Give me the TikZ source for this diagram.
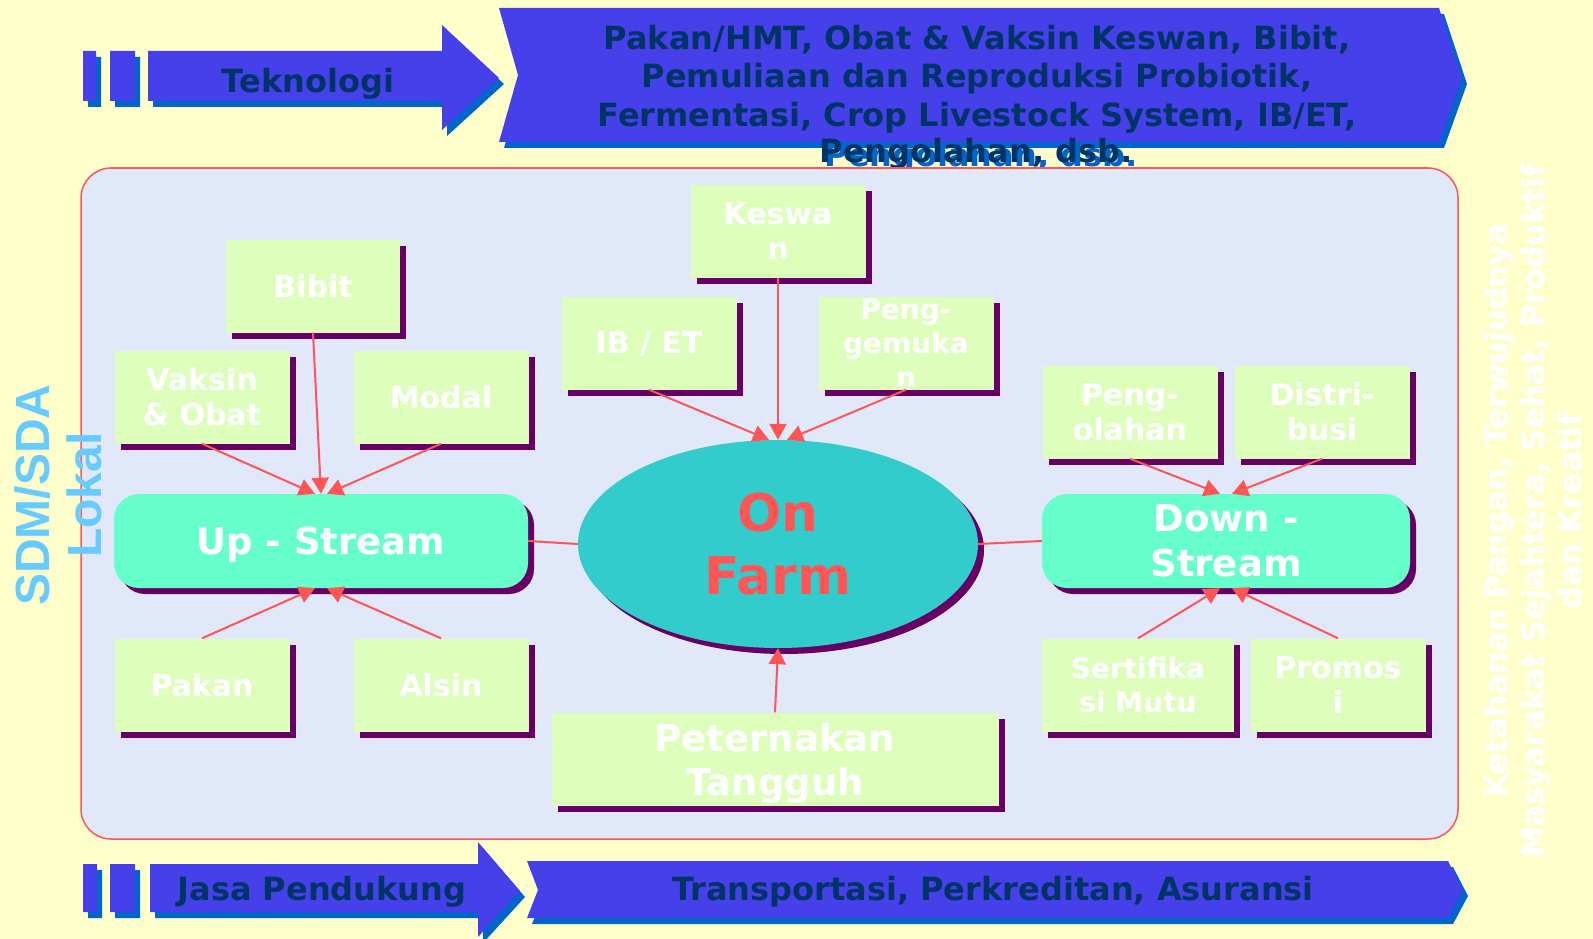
\documentclass[tikz,border=0pt]{standalone}
\usepackage{fontspec}
\setmainfont{DejaVu Sans}
\newfontfamily\lokalfont{Liberation Sans}
\usepackage{xcolor}
\usetikzlibrary{arrows.meta}
\usetikzlibrary{shadows}
\usetikzlibrary{shapes.geometric}
\definecolor{bgyellow}{RGB}{255,255,204}
\definecolor{panel}{RGB}{224,232,250}
\definecolor{redline}{RGB}{255,85,85}
\definecolor{arrowblue}{RGB}{70,64,235}
\definecolor{shadeblue}{RGB}{0,102,204}
\definecolor{navytext}{RGB}{0,51,102}
\definecolor{boxgreen}{RGB}{221,255,187}
\definecolor{streamgreen}{RGB}{102,255,204}
\definecolor{farmteal}{RGB}{51,204,204}
\definecolor{plum}{RGB}{102,0,102}
\definecolor{skyblue}{RGB}{102,204,255}

\begin{document}
\begin{tikzpicture}[x=1pt,y=-1pt,
  plumshadow/.style={drop shadow={shadow xshift=6pt,shadow yshift=-6pt,fill=plum,opacity=1}},
  factor/.style={fill=boxgreen,plumshadow,minimum width=175pt,minimum height=93pt,inner sep=0pt,
    text depth=0pt,text=white,align=center,font=\bfseries\fontsize{30}{35}\selectfont},
  stream/.style={fill=streamgreen,plumshadow,rounded corners=25pt,minimum height=94pt,inner sep=0pt,
    text depth=0pt,text=white,align=center,font=\bfseries\fontsize{37}{45}\selectfont},
  banner/.style={text=navytext,align=center,font=\bfseries\fontsize{32}{38.5}\selectfont},
  link/.style={draw=redline,line width=2pt,-{Triangle[length=16pt,width=17pt]}},
  tie/.style={draw=redline,line width=2pt}]

\useasboundingbox (0,0) rectangle (1593,939);
\fill[bgyellow] (0,0) rectangle (1593,939);

% arrows and banners, blue shadow first
\foreach \s/\c in {1/shadeblue,0/arrowblue}{
  \fill[\c,shift={(5*\s,6*\s)}] (83,51) rectangle (96,101) (110,51) rectangle (135,101)
    (148,51) -- (442,51) -- (442,25) -- (499,78) -- (442,130) -- (442,101) -- (148,101) -- cycle;
  \fill[\c,shift={(5*\s,6*\s)}] (499,8) -- (1439,8) -- (1462,78) -- (1439,142) -- (499,142) -- (518,75) -- cycle;
  \fill[\c,shift={(5*\s,6*\s)}] (83,864) rectangle (97,912) (110,864) rectangle (135,912)
    (150,864) -- (478,864) -- (478,842) -- (520,891) -- (478,937) -- (478,912) -- (150,912) -- cycle;
  \fill[\c,shift={(5*\s,6*\s)}] (527,861) -- (1448,861) -- (1463,890) -- (1448,918) -- (527,918) -- (538,890) -- cycle;
}
\node[banner,anchor=base] (tekno) at (308,93) {Teknologi};
\node[banner] (teknolist) at (977,79) {Pakan/HMT, Obat \& Vaksin Keswan, Bibit,\\
  Pemuliaan dan Reproduksi Probiotik,\\ Fermentasi, Crop Livestock System, IB/ET,};
\node[banner,anchor=base,text=shadeblue] (teknoend-s) at (981,167) {Pengolahan, dsb.};
\node[banner,anchor=base] (teknoend) at (976,162) {Pengolahan, dsb.};
\node[banner,anchor=base] (jasa) at (322,900) {Jasa Pendukung};
\node[banner,anchor=base] (jasalist) at (993,900) {Transportasi, Perkreditan, Asuransi};

\draw[redline,fill=panel,line width=1.5pt,rounded corners=30pt] (81,168) rectangle (1458,839);

% boxes
\node[factor,minimum width=174pt] (bibit) at (313,286) {Bibit};
\node[factor] (vaksin) at (202,397) {Vaksin\\\& Obat};
\node[factor] (modal) at (441,397) {Modal};
\node[factor] (keswan) at (778,231) {Keswa\\n};
\node[factor] (ibet) at (649,343) {IB / ET};
\node[factor,font=\bfseries\fontsize{28}{34}\selectfont] (gemuk) at (906,343) {Peng-\\gemuka\\n};
\node[factor] (olah) at (1130,412) {Peng-\\olahan};
\node[factor] (distri) at (1322,412) {Distri-\\busi};
\node[factor] (pakan) at (202,685) {Pakan};
\node[factor] (alsin) at (441,685) {Alsin};
\node[factor,minimum width=192pt,font=\bfseries\fontsize{28}{34}\selectfont] (sertif) at (1138,685) {Sertifika\\si Mutu};
\node[factor] (promosi) at (1338,685) {Promos\\i};
\node[factor,minimum width=447pt,font=\bfseries\fontsize{37}{44}\selectfont] (ternak) at (775,759) {Peternakan\\Tangguh};

\node[stream,minimum width=414pt] (up) at (321,541) {Up - Stream};
\node[stream,minimum width=368pt] (down) at (1226,541) {Down -\\Stream};
\node[ellipse,fill=farmteal,plumshadow,minimum width=400pt,minimum height=208pt,inner sep=0pt,
  text=redline,align=center,font=\bfseries\fontsize{52}{63}\selectfont] (farm) at (778,544) {On\\Farm};

% connectors
\draw[link] (bibit.south) -- (up.north);
\draw[link] (vaksin.south) -- ([xshift=-6pt]up.north);
\draw[link] (modal.south) -- ([xshift=6pt]up.north);
\draw[link] (pakan.north) -- ([xshift=-6pt]up.south);
\draw[link] (alsin.north) -- ([xshift=6pt]up.south);
\draw[link] (keswan.south) -- (farm.north);
\draw[link] (ibet.south) -- ([xshift=-9pt]farm.north);
\draw[link] (gemuk.south) -- ([xshift=9pt]farm.north);
\draw[link] (ternak.north) -- (farm.south);
\draw[link] (olah.south) -- ([xshift=-6pt]down.north);
\draw[link] (distri.south) -- ([xshift=6pt]down.north);
\draw[link] (sertif.north) -- ([xshift=-6pt]down.south);
\draw[link] (promosi.north) -- ([xshift=6pt]down.south);
\draw[tie] (up.east) -- (farm.west);
\draw[tie] (farm.east) -- (down.west);

% side texts
\node[rotate=90,text=skyblue,align=center,font=\lokalfont\bfseries\fontsize{48}{52}\selectfont] (sdm) at (58,495) {SDM/SDA\\Lokal};
\node[rotate=90,text=white,align=center,font=\bfseries\fontsize{31}{37}\selectfont] (tujuan) at (1533,511)
  {Ketahanan Pangan, Terwujudnya\\Masyarakat Sejahtera, Sehat, Produktif\\dan Kreatif};

\end{tikzpicture}
\end{document}
